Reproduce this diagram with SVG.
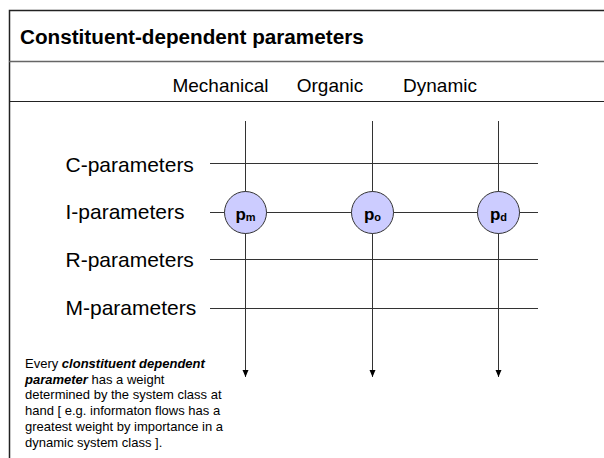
<svg xmlns="http://www.w3.org/2000/svg" width="604" height="458" viewBox="0 0 604 458">
<defs>
<style>
text{font-family:"Liberation Sans",Arial,sans-serif;fill:#000}
.title{font-size:20.7px;font-weight:bold}
.hdr{font-size:19px}
.row{font-size:21px}
.note{font-size:13px}
.grid{stroke:#333;stroke-width:1;fill:none}
.node circle{fill:#ccccff;stroke:#333;stroke-width:1}
.node text{font-weight:bold;font-size:17px}
.node tspan.sub{font-size:11px}
</style>
<marker id="arr" markerWidth="8" markerHeight="8" refX="7" refY="4" orient="auto" markerUnits="userSpaceOnUse">
<path d="M0,1 L7,4 L0,7 Z" fill="#000"/>
</marker>
</defs>
<rect x="0" y="0" width="604" height="458" fill="#fff"/>
<g id="frame" fill="none">
<path d="M9.5,458 V10.5 H604" stroke="#222" stroke-width="1.5"/>
<line x1="9" y1="61.5" x2="604" y2="61.5" stroke="#666" stroke-width="1.5"/>
<line x1="9" y1="101.5" x2="604" y2="101.5" stroke="#222" stroke-width="1.2"/>
</g>
<text class="title" x="20" y="43.5">Constituent-dependent parameters</text>
<g id="headers">
<text class="hdr" x="220.5" y="91.7" text-anchor="middle">Mechanical</text>
<text class="hdr" x="330" y="91.7" text-anchor="middle">Organic</text>
<text class="hdr" x="440" y="91.7" text-anchor="middle">Dynamic</text>
</g>
<g id="rows">
<text class="row" x="65.5" y="171.5">C-parameters</text>
<text class="row" x="65.5" y="219">I-parameters</text>
<text class="row" x="65.5" y="266.5">R-parameters</text>
<text class="row" x="65.5" y="315">M-parameters</text>
</g>
<g id="connectors" class="grid">
<line x1="210" y1="163.5" x2="538" y2="163.5"/>
<line x1="210" y1="212.5" x2="538" y2="212.5"/>
<line x1="210" y1="259.5" x2="538" y2="259.5"/>
<line x1="210" y1="308.5" x2="538" y2="308.5"/>
<line x1="245.5" y1="121" x2="245.5" y2="377" marker-end="url(#arr)"/>
<line x1="372.5" y1="121" x2="372.5" y2="377" marker-end="url(#arr)"/>
<line x1="498.5" y1="121" x2="498.5" y2="377" marker-end="url(#arr)"/>
</g>
<g id="pm" class="node">
<circle cx="245.5" cy="212.5" r="21"/>
<text x="245.5" y="219.5" text-anchor="middle">p<tspan class="sub" dy="1">m</tspan></text>
</g>
<g id="po" class="node">
<circle cx="372.5" cy="212.5" r="21"/>
<text x="372.5" y="219.5" text-anchor="middle">p<tspan class="sub" dy="1">o</tspan></text>
</g>
<g id="pd" class="node">
<circle cx="498.5" cy="212.5" r="21"/>
<text x="498.5" y="219.5" text-anchor="middle">p<tspan class="sub" dy="1">d</tspan></text>
</g>
<g id="note" class="note">
<text x="25" y="368">Every <tspan font-weight="bold" font-style="italic">clonstituent dependent</tspan></text>
<text x="25" y="383.7"><tspan font-weight="bold" font-style="italic">parameter</tspan> has a weight</text>
<text x="25" y="399.4">determined by the system class at</text>
<text x="25" y="415.1">hand [ e.g. informaton flows has a</text>
<text x="25" y="430.8">greatest weight by importance in a</text>
<text x="25" y="446.5">dynamic system class ].</text>
</g>
</svg>
